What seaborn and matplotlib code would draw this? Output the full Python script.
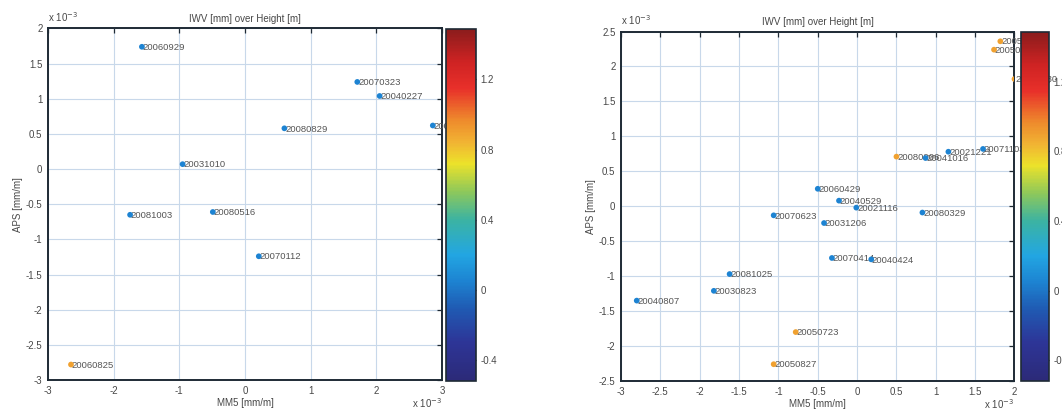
import numpy as np
import pandas as pd
import matplotlib
matplotlib.use("Agg")
import matplotlib.pyplot as plt
from matplotlib.colors import LinearSegmentedColormap, Normalize
from matplotlib.cm import ScalarMappable
from matplotlib.ticker import FuncFormatter, MultipleLocator
import seaborn as sns

# ---------------- data (MM5 / APS in units of 1e-3 mm/m) ----------------
left_labels = ['20060929', '20070323', '20040227', '20080829', '20070525',
               '20031010', '20081003', '20080516', '20070112', '20060825']
left_mm5 = [-1.57, 1.71, 2.05, 0.60, 2.86, -0.95, -1.75, -0.49, 0.21, -2.65]
left_aps = [1.74, 1.24, 1.04, 0.58, 0.62, 0.07, -0.65, -0.61, -1.24, -2.78]
left_iwv = [0.05, 0.05, 0.05, 0.05, 0.05, 0.05, 0.05, 0.05, 0.05, 0.90]

right_labels = ['20050612', '20050515', '20050630', '20080906', '20041016',
                '20021221', '20071103', '20060429', '20040529', '20021116',
                '20070623', '20031206', '20080329', '20070414', '20040424',
                '20081025', '20030823', '20040807', '20050723', '20050827']
right_mm5 = [1.82, 1.74, 2.00, 0.50, 0.87, 1.16, 1.60, -0.50, -0.23, -0.01,
             -1.06, -0.42, 0.83, -0.32, 0.18, -1.62, -1.82, -2.80, -0.78, -1.06]
right_aps = [2.36, 2.24, 1.82, 0.71, 0.69, 0.78, 0.82, 0.25, 0.08, -0.02,
             -0.13, -0.24, -0.09, -0.74, -0.76, -0.97, -1.21, -1.35, -1.80, -2.26]
right_iwv = [0.90, 0.90, 0.90, 0.90, 0.05, 0.05, 0.05, 0.05, 0.05, 0.05,
             0.05, 0.05, 0.05, 0.05, 0.05, 0.05, 0.05, 0.05, 0.90, 0.90]

cbar_ticks = [-0.4, 0, 0.4, 0.8, 1.2]
title = 'IWV [mm] over Height [m]'
xlabel = 'MM5 [mm/m]'
ylabel = 'APS [mm/m]'

# ---------------- style ----------------
sns.set_style('white')
plt.rcParams['font.family'] = ['Liberation Sans', 'DejaVu Sans']
TXT = '#474747'

vmin, vmax = -0.52, 1.49
stops = [(-0.52, '#2c2a78'), (-0.30, '#2d3597'), (-0.10, '#1f5cb4'),
         (0.05, '#1d84d2'), (0.20, '#22a6e2'), (0.40, '#3cb3a2'),
         (0.56, '#8ec85a'), (0.72, '#ece22a'), (0.84, '#f1b433'),
         (0.97, '#ee8a2c'), (1.15, '#e8302a'), (1.30, '#cf2323'), (1.49, '#8a1c1c')]
cmap = LinearSegmentedColormap.from_list(
    'iwv', [((v - vmin) / (vmax - vmin), c) for v, c in stops])
norm = Normalize(vmin, vmax)

W, H = 1062, 409
fig = plt.figure(figsize=(W / 100, H / 100), dpi=100)


def frac(x0, y0, x1, y1):
    return [x0 / W, 1 - y1 / H, (x1 - x0) / W, (y1 - y0) / H]


fmt = FuncFormatter(lambda v, p: f'{round(v, 3):g}' if abs(v) > 1e-9 else '0')


def panel(ax_rect, cb_rect, mm5, aps, iwv, labels, xlim, ylim, xstep, ystep):
    ax = fig.add_axes(ax_rect)
    df = pd.DataFrame({'mm5': mm5, 'aps': aps, 'iwv': iwv})
    sns.scatterplot(data=df, x='mm5', y='aps', hue='iwv', palette=cmap,
                    hue_norm=norm, legend=False, s=17, linewidth=0,
                    ax=ax, zorder=4)
    for xv, yv, lab in zip(mm5, aps, labels):
        ax.annotate(lab, (xv, yv), xytext=(0.5, -0.5), textcoords='offset points',
                    ha='left', va='center', fontsize=6.8, color='#555555',
                    annotation_clip=False, clip_on=False, zorder=3)
    ax.set_xlim(*xlim)
    ax.set_ylim(*ylim)
    ax.xaxis.set_major_locator(MultipleLocator(xstep))
    ax.yaxis.set_major_locator(MultipleLocator(ystep))
    ax.xaxis.set_major_formatter(fmt)
    ax.yaxis.set_major_formatter(fmt)
    ax.grid(True, color='#c8d8ea', linewidth=0.8, zorder=0)
    ax.set_axisbelow(True)
    for sp in ax.spines.values():
        sp.set_color('#1e2a35')
        sp.set_linewidth(1.4)
    ax.tick_params(direction='in', length=3.5, width=0.9, color='#1e2a35',
                   top=True, right=True, labelsize=7, labelcolor=TXT, pad=4)
    ax.set_title(title, fontsize=7, color=TXT, pad=5)
    ax.set_xlabel(xlabel, fontsize=7, color=TXT, labelpad=2)
    ax.set_ylabel(ylabel, fontsize=7, color=TXT, labelpad=2)
    ax.text(0.0, 1.012, r'x 10$^{-3}$', transform=ax.transAxes, fontsize=7,
            color=TXT, ha='left', va='bottom')
    ax.text(1.0, -0.046, r'x 10$^{-3}$', transform=ax.transAxes, fontsize=7,
            color=TXT, ha='right', va='top')

    cax = fig.add_axes(cb_rect)
    cb = fig.colorbar(ScalarMappable(norm=norm, cmap=cmap), cax=cax)
    cb.set_ticks(cbar_ticks)
    cb.set_ticklabels([f'{t:g}' for t in cbar_ticks])
    cb.outline.set_edgecolor('#1e2a35')
    cb.outline.set_linewidth(1.2)
    cax.tick_params(direction='in', length=3, width=0.9, color='#1e2a35',
                    left=True, right=True, labelsize=7, labelcolor=TXT, pad=3)
    return ax


panel(frac(48, 28.5, 442, 380), frac(446, 28.5, 476, 381),
      left_mm5, left_aps, left_iwv, left_labels, (-3, 3), (-3, 2), 1, 0.5)
panel(frac(621, 31.5, 1014.5, 381), frac(1021, 31.5, 1049, 381),
      right_mm5, right_aps, right_iwv, right_labels, (-3, 2), (-2.5, 2.5), 0.5, 0.5)

fig.savefig('out.png', dpi=100, facecolor='white')
